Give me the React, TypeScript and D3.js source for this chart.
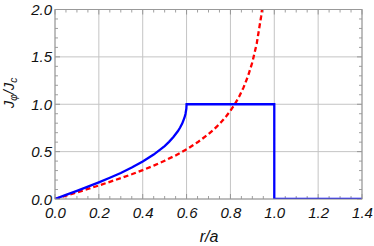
import React from "react";
import * as d3 from "d3";

// current density profiles J_phi/J_c vs r/a
const blueR = [0, 0.05, 0.1, 0.15, 0.2, 0.25, 0.3, 0.35, 0.4, 0.45, 0.5, 0.52, 0.54, 0.56, 0.57, 0.58, 0.59, 0.595, 0.599, 0.6, 1.0, 1.0, 1.4];
const blueJ = [0, 0.043, 0.086, 0.13, 0.176, 0.224, 0.275, 0.332, 0.396, 0.469, 0.559, 0.603, 0.654, 0.715, 0.752, 0.796, 0.855, 0.897, 0.954, 1.0, 1.0, 0, 0];

const redR = [0, 0.05, 0.1, 0.15, 0.2, 0.25, 0.3, 0.35, 0.4, 0.45, 0.5, 0.55, 0.6, 0.65, 0.7, 0.72, 0.74, 0.76, 0.78, 0.8, 0.82, 0.84, 0.86, 0.88, 0.9, 0.92, 0.94, 0.945];
const redJ = [0, 0.035, 0.07, 0.106, 0.143, 0.181, 0.22, 0.261, 0.305, 0.352, 0.404, 0.46, 0.524, 0.598, 0.685, 0.725, 0.769, 0.817, 0.871, 0.932, 1.001, 1.082, 1.178, 1.295, 1.443, 1.641, 1.926, 2.019];

const xTicks = [0, 0.2, 0.4, 0.6, 0.8, 1.0, 1.2, 1.4];
const yTicks = [0, 0.5, 1.0, 1.5, 2.0];

const W = 374, H = 246;
const left = 55, right = 362, top = 9.5, bottom = 199;

export default function App() {
  const x = d3.scaleLinear().domain([0, 1.4]).range([left, right]);
  const y = d3.scaleLinear().domain([0, 2]).range([bottom, top]);

  const line = d3.line<[number, number]>().x(d => x(d[0])).y(d => y(d[1]));
  const bluePts = blueR.map((r, i) => [r, blueJ[i]] as [number, number]);
  const redPts = redR.map((r, i) => [r, redJ[i]] as [number, number]);

  const xMinor = d3.range(0, 1.4001, 0.05);
  const yMinor = d3.range(0, 2.0001, 0.1);
  const font = "'Liberation Sans', Arial, sans-serif";

  return (
    <svg width={W} height={H} style={{ position: "absolute", left: 0, top: 0 }}>
      <defs>
        <clipPath id="plot">
          <rect x={left} y={top} width={right - left} height={bottom - top} />
        </clipPath>
      </defs>
      <rect width={W} height={H} fill="white" />
      {/* grid */}
      {xTicks.map(t => (
        <line key={"gx" + t} x1={x(t)} x2={x(t)} y1={top} y2={bottom} stroke="#c4c4c4" strokeWidth={1} />
      ))}
      {yTicks.map(t => (
        <line key={"gy" + t} x1={left} x2={right} y1={y(t)} y2={y(t)} stroke="#c4c4c4" strokeWidth={1} />
      ))}
      {/* ticks on all sides */}
      {xMinor.map((t, i) => {
        const len = i % 4 === 0 ? 5 : 3;
        return (
          <g key={"tx" + i} stroke="#888" strokeWidth={0.8}>
            <line x1={x(t)} x2={x(t)} y1={bottom} y2={bottom - len} />
            <line x1={x(t)} x2={x(t)} y1={top} y2={top + len} />
          </g>
        );
      })}
      {yMinor.map((t, i) => {
        const len = i % 5 === 0 ? 5 : 3;
        return (
          <g key={"ty" + i} stroke="#888" strokeWidth={0.8}>
            <line x1={left} x2={left + len} y1={y(t)} y2={y(t)} />
            <line x1={right} x2={right - len} y1={y(t)} y2={y(t)} />
          </g>
        );
      })}
      {/* curves */}
      <g clipPath="url(#plot)">
        <path d={line(redPts) || ""} fill="none" stroke="#ff0000" strokeWidth={2.3} strokeDasharray="5,3" />
        <path d={line(bluePts) || ""} fill="none" stroke="#0000ff" strokeWidth={2.3} strokeLinejoin="miter" />
      </g>
      {/* frame */}
      <rect x={left} y={top} width={right - left} height={bottom - top} fill="none" stroke="#999" strokeWidth={1} />
      {/* tick labels */}
      {xTicks.map(t => (
        <text key={"lx" + t} x={x(t) + 0.5} y={217.5} textAnchor="middle" fontFamily={font} fontStyle="italic" fontSize={15} fill="#111">
          {t.toFixed(1)}
        </text>
      ))}
      {yTicks.map(t => (
        <text key={"ly" + t} x={52} y={y(t) + 5.5} textAnchor="end" fontFamily={font} fontStyle="italic" fontSize={15} fill="#111">
          {t.toFixed(1)}
        </text>
      ))}
      {/* axis labels */}
      <text x={209} y={242} textAnchor="middle" fontFamily={font} fontStyle="italic" fontSize={16} fill="#111">
        r/a
      </text>
      <text transform="translate(14,93) rotate(-90)" textAnchor="middle" fontFamily={font} fontStyle="italic" fontSize={15} fill="#111">
        J<tspan fontSize={10} dy={3}>φ</tspan><tspan dy={-3}>/J</tspan><tspan fontSize={10} dy={3}>c</tspan>
      </text>
    </svg>
  );
}
